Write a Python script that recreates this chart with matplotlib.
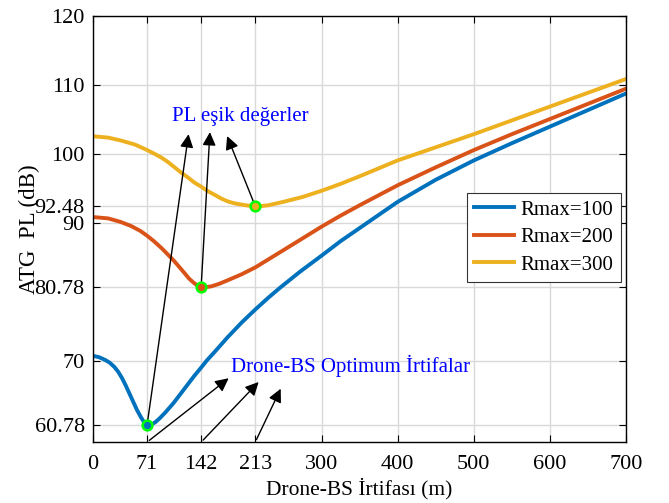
import numpy as np
import matplotlib.pyplot as plt

plt.rcParams['font.family'] = ['Liberation Serif', 'DejaVu Serif']

# altitude (m) and path loss (dB)
h1 = [0, 8, 16, 22, 28, 33, 38, 43, 48, 53, 58, 63, 67, 71, 76, 82, 88, 95, 106, 115, 124, 133,
      142, 150, 160, 176, 195, 213, 230, 246, 272, 300, 325, 350, 400, 450, 500, 550, 600, 650, 700]
pl1 = [70.8, 70.6, 70.2, 69.8, 69.2, 68.5, 67.6, 66.5, 65.3, 64.1, 62.9, 61.9, 61.2, 60.78, 60.8,
       61.2, 61.8, 62.6, 64.0, 65.3, 66.6, 67.9, 69.1, 70.2, 71.4, 73.4, 75.6, 77.5, 79.2, 80.7,
       83.0, 85.3, 87.4, 89.3, 93.1, 96.3, 99.1, 101.6, 104.0, 106.4, 108.8]
h2 = [0, 20, 36, 50, 62, 71, 80, 90, 98, 106, 113, 120, 126, 132, 137, 142, 148, 155, 165, 176,
      195, 213, 250, 275, 300, 325, 350, 400, 450, 500, 550, 600, 650, 700]
pl2 = [90.9, 90.7, 90.2, 89.6, 88.9, 88.2, 87.4, 86.4, 85.5, 84.6, 83.7, 82.8, 82.0, 81.4, 81.0,
       80.78, 80.75, 80.85, 81.2, 81.7, 82.6, 83.6, 86.1, 87.8, 89.5, 91.1, 92.6, 95.5, 98.1,
       100.6, 102.9, 105.1, 107.3, 109.5]
h3 = [0, 20, 36, 55, 71, 80, 90, 98, 106, 115, 125, 133, 142, 150, 160, 168, 176, 185, 195, 204,
      213, 222, 230, 250, 275, 300, 325, 350, 400, 450, 500, 550, 600, 650, 700]
pl3 = [102.6, 102.4, 102.0, 101.4, 100.6, 100.1, 99.5, 98.9, 98.2, 97.4, 96.6, 95.9, 95.3, 94.7,
       94.1, 93.6, 93.2, 92.9, 92.7, 92.55, 92.48, 92.5, 92.6, 93.1, 93.8, 94.7, 95.7, 96.8, 99.1,
       101.0, 102.9, 104.9, 106.9, 108.9, 110.9]
opt_h = [71, 142, 213]
opt_pl = [60.78, 80.78, 92.48]
labels = ['Rmax=100', 'Rmax=200', 'Rmax=300']
colors = ['#0072BD', '#D95319', '#EDB120']
xticks = [0, 71, 142, 213, 300, 400, 500, 600, 700]
yticks = [60.78, 70, 80.78, 90, 92.48, 100, 110, 120]
ytick_labels = ['60.78', '70', '80.78', '90', '92.48', '100', '110', '120']

fig = plt.figure(figsize=(6.69, 5.03), dpi=100)
ax = fig.add_axes([0.139, 0.121, 0.797, 0.847])

for h, pl, c, lab in zip([h1, h2, h3], [pl1, pl2, pl3], colors, labels):
    ax.plot(h, pl, color=c, lw=2.8, label=lab, solid_joinstyle='round')
for x, y, c in zip(opt_h, opt_pl, colors):
    ax.plot(x, y, 'o', ms=7, mfc=c, mec='#00FF00', mew=1.8, zorder=5)

ax.set_xlim(0, 700)
ax.set_ylim(58.3, 120)
ax.set_xticks(xticks)
ax.set_yticks(yticks)
ax.set_yticklabels(ytick_labels)
ax.tick_params(direction='in', labelsize=16, length=5, width=0.8, top=True, right=True)
ax.tick_params(axis='x', pad=9)
ax.tick_params(axis='y', pad=6)
ax.grid(True, color='#d9d9d9', lw=1.0)
for s in ax.spines.values():
    s.set_linewidth(1.0)

ax.set_xlabel('Drone-BS İrtifası (m)', fontsize=15.5, labelpad=3)
ax.set_ylabel('ATG  PL (dB)', fontsize=16.5)
ax.yaxis.set_label_coords(-0.1, 0.5)

arr = dict(arrowstyle='-|>', color='k', lw=1.0, mutation_scale=20)
ax.text(193, 105.4, 'PL eşik değerler', color='blue', fontsize=15, ha='center', va='center')
for (x0, y0), (x1, y1) in zip(zip(opt_h, opt_pl), [(126, 103.3), (153.7, 103.6), (174.7, 103.0)]):
    ax.annotate('', xy=(x1, y1), xytext=(x0, y0), arrowprops=arr)

ax.text(181, 69.3, 'Drone-BS Optimum İrtifalar', color='blue', fontsize=15, ha='left', va='center')
for x0, (x1, y1) in zip(opt_h, [(181, 67.8), (220, 67.3), (248, 66.4)]):
    ax.annotate('', xy=(x1, y1), xytext=(x0, 58.3), arrowprops=arr)

leg = ax.legend(loc='upper right', bbox_to_anchor=(0.99, 0.585), fontsize=15,
                fancybox=False, edgecolor='#333333', framealpha=1,
                handlelength=1.95, borderpad=0.35, labelspacing=0.38, handletextpad=0.3, borderaxespad=0)
leg.get_frame().set_linewidth(0.8)

fig.savefig('out.png', dpi=100)
